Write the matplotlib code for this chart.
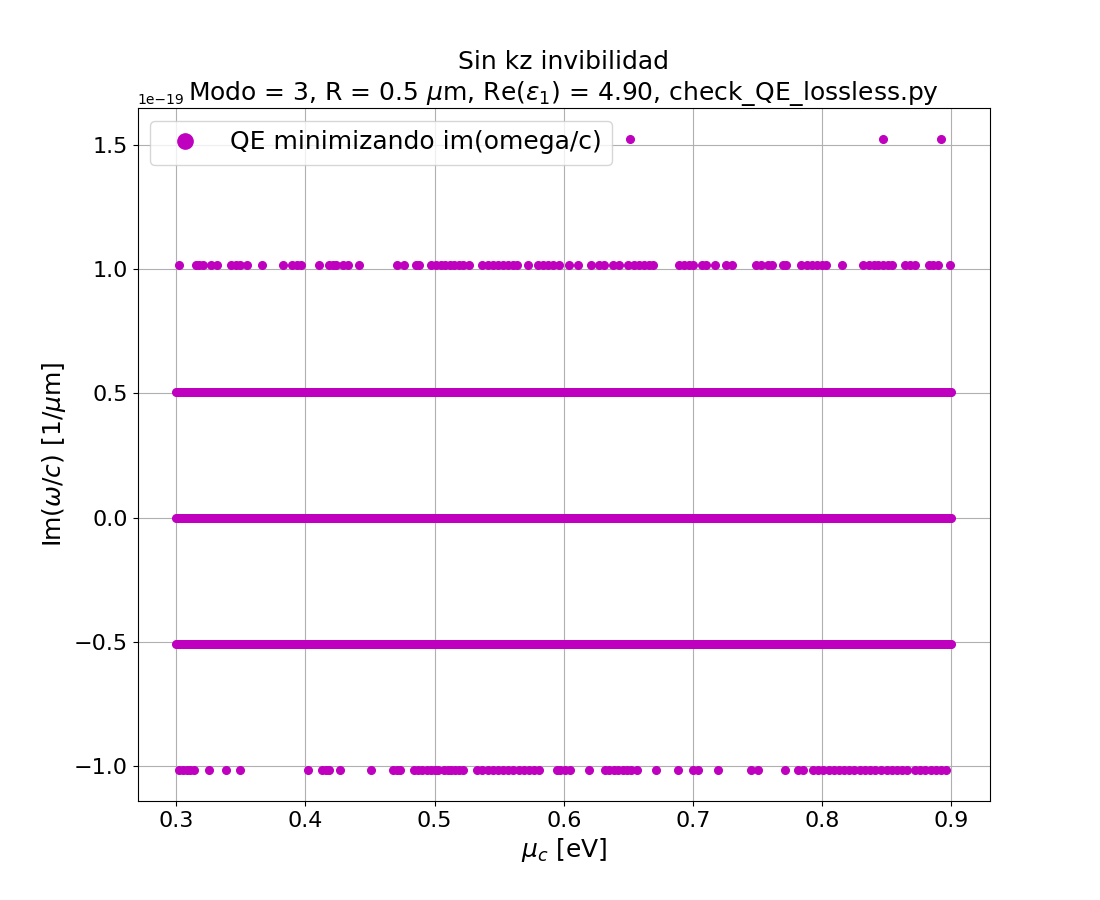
import numpy as np
import matplotlib.pyplot as plt

# barrido de mu_c [eV]
mu_c = np.linspace(0.3, 0.9, 601)

# niveles de Im(omega/c) (ruido numerico) [1/um]
paso = 0.508e-19
niveles_densos = [-1, 0, 1]

# puntos sueltos en cada nivel
mu_nivel_p2 = [0.3023, 0.3152, 0.3178, 0.3204, 0.3269, 0.3313, 0.3423, 0.3462, 0.3493,
               0.3550, 0.3666, 0.3828, 0.3893, 0.3932, 0.3963, 0.4107, 0.4184, 0.4210,
               0.4236, 0.4288, 0.4326, 0.4414, 0.4710, 0.4764, 0.4855, 0.4880, 0.497,
               0.501, 0.505, 0.508, 0.512, 0.515, 0.519, 0.522, 0.5267, 0.537, 0.541,
               0.545, 0.549, 0.553, 0.557, 0.561, 0.564, 0.5724, 0.580, 0.584, 0.588,
               0.592, 0.596, 0.6041, 0.6111, 0.6209, 0.627, 0.631, 0.638, 0.643, 0.650,
               0.654, 0.658, 0.662, 0.666, 0.669, 0.689, 0.693, 0.697, 0.700, 0.707,
               0.710, 0.7169, 0.7259, 0.7305, 0.749, 0.753, 0.758, 0.761, 0.770, 0.772,
               0.784, 0.788, 0.792, 0.796, 0.800, 0.803, 0.8157, 0.832, 0.836, 0.840,
               0.843, 0.847, 0.851, 0.854, 0.864, 0.868, 0.872, 0.883, 0.886, 0.890,
               0.8987]
mu_nivel_m2 = [0.302, 0.305, 0.308, 0.311, 0.314, 0.3255, 0.3382, 0.3493, 0.4021, 0.413,
               0.416, 0.418, 0.4267, 0.4507, 0.468, 0.471, 0.473, 0.484, 0.487, 0.490,
               0.494, 0.497, 0.500, 0.503, 0.507, 0.510, 0.513, 0.516, 0.519, 0.522,
               0.533, 0.537, 0.541, 0.545, 0.549, 0.553, 0.557, 0.561, 0.565, 0.569,
               0.573, 0.577, 0.581, 0.5944, 0.597, 0.601, 0.605, 0.6196, 0.632, 0.635,
               0.639, 0.642, 0.646, 0.649, 0.652, 0.6567, 0.6712, 0.6885, 0.700, 0.704,
               0.7194, 0.745, 0.750, 0.7710, 0.781, 0.785, 0.793, 0.797, 0.801, 0.805,
               0.809, 0.813, 0.817, 0.821, 0.825, 0.829, 0.833, 0.837, 0.841, 0.846,
               0.850, 0.854, 0.858, 0.862, 0.866, 0.872, 0.876, 0.880, 0.884, 0.888,
               0.892, 0.896]
mu_nivel_p3 = [0.651, 0.847, 0.892]

xs = []
ys = []
for n in niveles_densos:
    xs.append(mu_c)
    ys.append(np.full(len(mu_c), n * paso))
for n, lista in [(2, mu_nivel_p2), (-2, mu_nivel_m2), (3, mu_nivel_p3)]:
    xs.append(np.array(lista))
    ys.append(np.full(len(lista), n * paso))
x = np.concatenate(xs)
y = np.concatenate(ys)

plt.figure(figsize=(11, 9), dpi=100)
plt.plot(x, y, 'mo', ms=5.5, label='QE minimizando im(omega/c)')
plt.title('Sin kz invibilidad\nModo = 3, R = 0.5 $\\mu$m, Re($\\varepsilon_1$) = 4.90, check_QE_lossless.py',
          fontsize=18)
plt.xlabel('$\\mu_c$ [eV]', fontsize=18)
plt.ylabel('Im($\\omega/c$) [1/$\\mu$m]', fontsize=18)
plt.tick_params(labelsize=16)
plt.gca().yaxis.get_offset_text().set_fontsize(10)
plt.legend(loc='upper left', fontsize=18, markerscale=2)
plt.grid(True)
plt.savefig('out.png', dpi=100)
